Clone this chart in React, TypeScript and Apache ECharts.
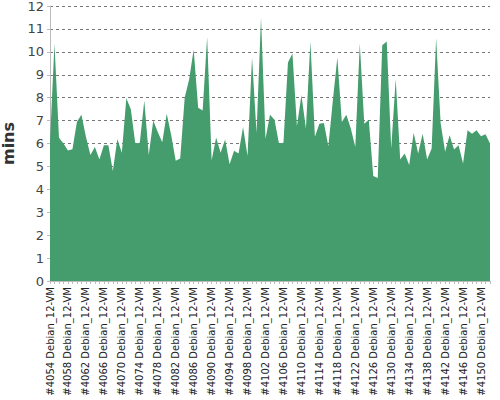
import { useEffect, useRef } from 'react'
import * as echarts from 'echarts'

// build numbers #4054 .. #4152
const BUILD_START = 4054
const DURATIONS = [
  6.1, 10.35, 6.25, 6.0, 5.7, 5.75, 6.95, 7.25, 6.3, 5.5,
  5.85, 5.3, 5.92, 5.92, 4.8, 6.2, 5.6, 7.98, 7.5, 6.0,
  6.03, 7.88, 5.5, 7.0, 6.5, 6.05, 7.3, 6.36, 5.25, 5.35,
  8.0, 8.8, 10.1, 7.56, 7.44, 10.65, 5.27, 6.26, 5.6, 6.17,
  5.1, 5.68, 5.56, 6.72, 5.45, 9.75, 6.46, 11.5, 6.21, 7.25,
  7.04, 6.0, 6.03, 9.54, 9.93, 6.75, 8.12, 6.65, 10.45, 6.29,
  6.86, 6.9, 5.88, 7.88, 9.75, 6.94, 7.25, 6.65, 5.85, 10.36,
  6.86, 7.04, 4.58, 4.5, 10.29, 10.45, 5.78, 8.81, 5.3, 5.56,
  5.06, 6.47, 5.56, 6.43, 5.3, 5.78, 10.6, 6.9, 5.64, 6.36,
  5.74, 5.92, 5.13, 6.58, 6.43, 6.58, 6.32, 6.4, 6.0,
]
const CATEGORIES = DURATIONS.map((_, i) => `#${BUILD_START + i} Debian_12-VM`)
const Y_TICKS = { min: 0, max: 12, interval: 1 }

const FONT = 'DejaVu Sans'

export default function App() {
  const ref = useRef<HTMLDivElement>(null)

  useEffect(() => {
    if (!ref.current) return
    const chart = echarts.init(ref.current, undefined, { renderer: 'svg' })

    chart.setOption({
      animation: false,
      backgroundColor: '#fff',
      grid: { left: 50, right: 10, top: 6, bottom: 119, outerBoundsMode: 'none', containLabel: false },
      xAxis: {
        type: 'category',
        data: CATEGORIES,
        boundaryGap: false,
        axisLine: { lineStyle: { color: '#bbb' } },
        axisTick: { interval: 0, length: 3, lineStyle: { color: '#bbb' } },
        axisLabel: {
          interval: 3,
          rotate: 90,
          fontFamily: FONT,
          fontSize: 10,
          color: '#222',
          margin: 6,
        },
      },
      yAxis: {
        type: 'value',
        ...Y_TICKS,
        name: 'mins',
        nameLocation: 'middle',
        nameGap: 29,
        nameTextStyle: { fontFamily: FONT, fontSize: 16, fontWeight: 'bold', color: '#333' },
        axisLine: { show: true, lineStyle: { color: '#bbb' } },
        axisTick: { show: true, length: 3, lineStyle: { color: '#bbb' } },
        axisLabel: { fontFamily: FONT, fontSize: 13, color: '#444', margin: 6 },
        splitLine: { lineStyle: { color: '#777', type: [3, 3], width: 1 } },
      },
      series: [
        {
          type: 'line',
          data: DURATIONS,
          symbol: 'none',
          lineStyle: { width: 0 },
          areaStyle: { color: '#459c6c', opacity: 1 },
          z: 1,
        },
      ],
    })

    return () => chart.dispose()
  }, [])

  return (
    <div
      ref={ref}
      style={{ position: 'absolute', left: 0, top: 0, width: 500, height: 400 }}
    />
  )
}
